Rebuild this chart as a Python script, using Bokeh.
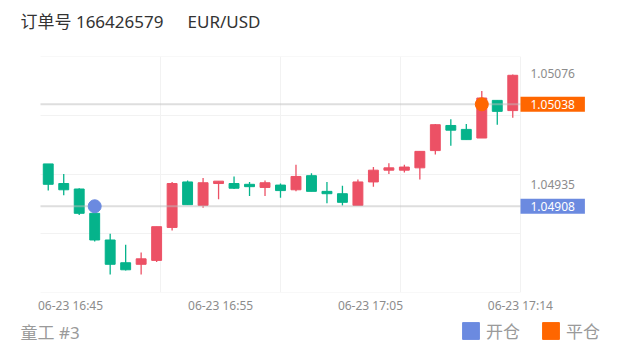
from bokeh.plotting import figure
from bokeh.layouts import column
from bokeh.models import Range1d, FixedTicker, Label, Legend, LegendItem, ColumnDataSource
from bokeh.core.properties import value
from bokeh.embed import file_html
from bokeh.resources import INLINE

# ---------------- data ----------------
order_no = "166426579"
symbol = "EUR/USD"
trader = "童工 #3"

opens = [1.04962, 1.04937, 1.04930, 1.04899, 1.04865, 1.04836, 1.04834, 1.04839, 1.04881, 1.04939,
         1.04909, 1.04937, 1.04937, 1.04936, 1.04932, 1.04935, 1.04929, 1.04947, 1.04927, 1.04924,
         1.04909, 1.04939, 1.04954, 1.04954, 1.04957, 1.04979, 1.05011, 1.05006, 1.04995, 1.05043,
         1.05030]
closes = [1.04936, 1.04929, 1.04899, 1.04865, 1.04834, 1.04827, 1.04841, 1.04882, 1.04937, 1.04910,
          1.04938, 1.04940, 1.04931, 1.04933, 1.04938, 1.04928, 1.04946, 1.04927, 1.04924, 1.04913,
          1.04939, 1.04954, 1.04957, 1.04958, 1.04978, 1.05012, 1.05005, 1.04993, 1.05046, 1.05029,
          1.05075]
highs = [1.04962, 1.04949, 1.04931, 1.04900, 1.04873, 1.04859, 1.04849, 1.04882, 1.04939, 1.04941,
         1.04944, 1.04940, 1.04946, 1.04939, 1.04941, 1.04937, 1.04961, 1.04950, 1.04939, 1.04934,
         1.04942, 1.04958, 1.04963, 1.04961, 1.04978, 1.05013, 1.05019, 1.05013, 1.05055, 1.05043,
         1.05076]
lows = [1.04928, 1.04922, 1.04897, 1.04863, 1.04821, 1.04826, 1.04821, 1.04837, 1.04877, 1.04910,
        1.04906, 1.04917, 1.04930, 1.04921, 1.04921, 1.04919, 1.04927, 1.04927, 1.04912, 1.04909,
        1.04909, 1.04933, 1.04949, 1.04951, 1.04942, 1.04974, 1.04985, 1.04993, 1.04995, 1.05012,
        1.05021]

x_tick_pos = [1.44, 11.13, 20.81, 30.49]
x_tick_labels = ["06-23 16:45", "06-23 16:55", "06-23 17:05", "06-23 17:14"]
y_ticks = [1.04935, 1.05076]

open_idx, open_price = 3, 1.04908
close_idx, close_price = 28, 1.05038
legend_labels = ["开仓", "平仓"]

# ---------------- styles / layout ----------------
UP = "#EC5165"
DOWN = "#05B38B"
BLUE = "#6B8AE0"
ORANGE = "#FF6600"
GRID = "#f2f2f2"
AXIS_TXT = "#8c8c8c"
FONT = "'Noto Sans', 'Noto Sans CJK SC'"

W = 620
HEAD_H, FOOT_H = 40, 36
MAIN_H = 352 - HEAD_H - FOOT_H
AREA_LEFT_PX = 40       # candle area starts here
AREA_W_PX = 480         # candle area width

n = len(opens)
xs = list(range(n))
colors = [UP if c >= o else DOWN for o, c in zip(opens, closes)]
src = ColumnDataSource(dict(x=xs, open=opens, close=closes, high=highs, low=lows, color=colors))

lo, hi = min(lows), max(highs)
pad = 0.09 * (hi - lo)
y0, y1 = lo - pad, hi + pad
xa0 = -0.5                       # left edge of the candle area
xc = xa0 + n                     # right edge of the candle area
ppu = AREA_W_PX / n              # pixels per candle
x_lo = xa0 - AREA_LEFT_PX / ppu  # frame covers the whole width
x_hi = xa0 + (W - AREA_LEFT_PX) / ppu


def bare(fig):
    fig.outline_line_color = None
    fig.background_fill_color = "white"
    fig.border_fill_color = "white"
    fig.xgrid.visible = False
    fig.ygrid.visible = False
    return fig


# ---------------- header ----------------
head = bare(figure(width=W, height=HEAD_H, x_range=Range1d(0, W), y_range=Range1d(0, HEAD_H),
                   x_axis_location=None, y_axis_location=None, title=None,
                   toolbar_location=None, output_backend="svg", min_border=0))
head.add_layout(Label(x=20, y=19.5, text="订单号 " + order_no, text_font=FONT,
                      text_font_size="17px", text_color="#333333", text_baseline="middle"))
head.add_layout(Label(x=187, y=19.5, text=symbol, text_font=FONT,
                      text_font_size="17px", text_color="#333333", text_baseline="middle"))

# ---------------- main chart ----------------
p = bare(figure(width=W, height=MAIN_H, x_range=Range1d(x_lo, x_hi), y_range=Range1d(y0, y1),
                x_axis_location="below", y_axis_location=None, title=None,
                toolbar_location=None, output_backend="svg",
                min_border_left=0, min_border_right=0, min_border_top=16,
                min_border_bottom=23))

p.xgrid.visible = True
p.xgrid.ticker = FixedTicker(ticks=[xa0 + k * n / 4 for k in range(1, 5)])
p.xgrid.grid_line_color = GRID
grid_ys = [y0 + k * (y1 - y0) / 4 for k in range(5)]
p.segment(x0=[xa0] * 5, y0=grid_ys, x1=[xc] * 5, y1=grid_ys, line_color=GRID, line_width=1)

xa = p.xaxis[0]
xa.ticker = FixedTicker(ticks=x_tick_pos)
xa.major_label_overrides = {t: l for t, l in zip(x_tick_pos, x_tick_labels)}
xa.axis_line_color = None
xa.major_tick_line_color = None
xa.minor_tick_line_color = None
xa.major_tick_out = 0
xa.major_tick_in = 0
xa.major_label_text_font = FONT
xa.major_label_text_font_size = "12px"
xa.major_label_text_color = AXIS_TXT
xa.major_label_standoff = 4

# candles
p.segment(x0="x", y0="high", x1="x", y1="low", color="color", line_width=1.3, source=src)
p.vbar(x="x", width=0.64, top="open", bottom="close", fill_color="color", line_color="color",
       line_width=1, source=src)

# open / close price lines (over the candles, translucent)
for price in (open_price, close_price):
    p.segment(x0=[xa0], y0=[price], x1=[xc], y1=[price], line_color="#bdbdbd",
              line_alpha=0.5, line_width=2)

# trade markers
p.scatter([open_idx], [open_price], size=13, color=BLUE)
p.scatter([close_idx], [close_price], size=13, color=ORANGE)

# right-hand price scale labels
p.text(x=[xc] * len(y_ticks), y=y_ticks, text=[f"{v:.5f}" for v in y_ticks], x_offset=10,
       y_offset=-1, text_font=value(FONT), text_font_size="12px", text_color=AXIS_TXT,
       text_baseline="middle", text_align="left")

# price tags
for price, col in ((close_price, ORANGE), (open_price, BLUE)):
    p.add_layout(Label(x=xc, y=price, text=f"{price:.5f}", text_font=FONT,
                       text_font_size="12px", text_color="white",
                       text_baseline="middle", text_align="left",
                       background_fill_color=col,
                       padding=dict(left=10, right=10, top=3, bottom=3)))

# ---------------- footer ----------------
foot = bare(figure(width=W, height=FOOT_H, x_range=Range1d(0, W), y_range=Range1d(0, FOOT_H),
                   x_axis_location=None, y_axis_location=None, title=None,
                   toolbar_location=None, output_backend="svg", min_border=0))
foot.add_layout(Label(x=20, y=20.5, text=trader, text_font=FONT, text_font_size="17px",
                      text_color="#9a9a9a", text_baseline="middle"))
# legend swatches: renderers parked outside the visible range
r_open = foot.quad(left=[-20], right=[-10], top=[-20], bottom=[-10], color=BLUE)
r_close = foot.quad(left=[-20], right=[-10], top=[-20], bottom=[-10], color=ORANGE)
legend = Legend(items=[LegendItem(label=legend_labels[0], renderers=[r_open]),
                       LegendItem(label=legend_labels[1], renderers=[r_close])],
                location=(460, 9), orientation="horizontal",
                glyph_width=21, glyph_height=21, label_standoff=5, spacing=20,
                label_text_font=FONT, label_text_font_size="17px", label_text_color="#9a9a9a",
                border_line_color=None, background_fill_alpha=0, padding=0, margin=0)
foot.add_layout(legend)

layout = column(head, p, foot, spacing=0)
open("out.html", "w").write(file_html(layout, INLINE))
